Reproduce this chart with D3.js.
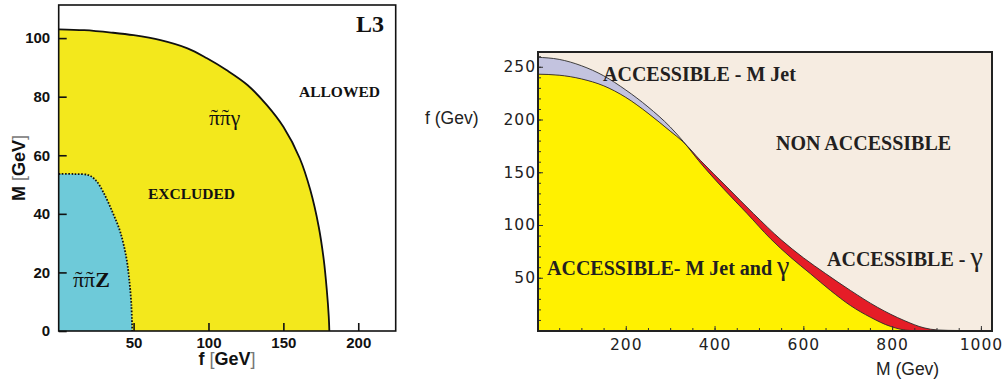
<!DOCTYPE html>
<html>
<head>
<meta charset="utf-8">
<script src="https://cdn.jsdelivr.net/npm/d3@7"></script>
<style>
  html, body { margin: 0; padding: 0; background: #ffffff; }
  svg { display: block; }
  .serif { font-family: "Liberation Serif", "DejaVu Serif", serif; }
  .sansb { font-family: "Liberation Sans", Arial, sans-serif; font-weight: bold; }
</style>
</head>
<body>
<svg id="chart" width="1002" height="385"></svg>
<script>
// ---------- Left panel: L3 exclusion regions (f [GeV] vs M [GeV]) ----------
const gammaBoundF = [0, 17, 35, 50, 68, 86, 99, 112, 126, 139, 150, 161, 168, 173.6, 177, 179, 180.3, 180.7];
const gammaBoundM = [103, 102.7, 101.9, 101, 99.3, 96.5, 93.1, 89.1, 84, 77.1, 69.7, 58.9, 48.1, 35.6, 24.2, 14, 5, 0];
const zBoundF = [0, 10, 20, 25, 30, 36, 41, 45, 47, 48.5, 49.1];
const zBoundM = [53.6, 53.6, 53.2, 51.3, 47.2, 40.5, 34, 25.5, 18, 9, 0];
const leftXTicks = [50, 100, 150, 200];
const leftYTicks = [0, 20, 40, 60, 80, 100];

// ---------- Right panel: accessible regions (M (Gev) vs f (Gev)) ----------
const jetM = [0, 50, 100, 150, 200, 250, 300, 330, 364, 420, 473, 526, 571, 616, 661, 706, 751, 797, 842, 900, 1025];
const jetF = [259, 257, 251, 241.5, 228, 212, 193, 179, 161, 134.4, 111, 87, 69.5, 53.8, 38, 23.7, 12.6, 3.8, 0, 0, 0];
const photonM = [0, 50, 100, 150, 200, 250, 300, 330, 368, 428, 488, 550, 600, 650, 706, 767, 827, 872, 902, 950, 1025];
const photonF = [243, 242, 238.5, 232, 221, 206, 189, 178.5, 161.3, 136, 110.7, 86, 69, 54, 38, 22, 9.5, 2.5, 0.5, 0, 0];
const rightXMajor = [200, 400, 600, 800, 1000];
const rightXMinor = d3.range(50, 1025, 50);
const rightYMajor = [50, 100, 150, 200, 250];
const rightYMinor = d3.range(10, 264, 10);

const svg = d3.select("#chart");

// Measures a string in the serif face at a given size.
function measure(str, size, bold) {
  const t = svg.append("text").attr("class", "serif").attr("font-size", size)
    .attr("font-weight", bold ? "bold" : "normal").text(str);
  const w = t.node().getComputedTextLength();
  t.remove();
  return w;
}

// One text element; a tilde accent is laid back over each marked glyph.
function accentLabel(parent, x, y, size, parts) {
  const text = parent.append("text").attr("class", "serif").attr("font-size", size)
    .attr("x", x).attr("y", y).attr("fill", "#111");
  const wt = measure("\u02DC", size);
  const lift = -1.5;
  let dx = 0, dy = 0;
  parts.forEach(p => {
    const wp = measure(p.t, size, p.bold);
    text.append("tspan").attr("font-weight", p.bold ? "bold" : "normal")
      .attr("dx", dx).attr("dy", dy).text(p.t);
    dx = 0; dy = 0;
    if (p.tilde) {
      text.append("tspan").attr("dx", -(wp + wt) / 2).attr("dy", lift).text("\u02DC");
      dx = (wp - wt) / 2; dy = -lift;
    }
  });
}

// ================= LEFT PANEL =================
const L = { x0: 58.7, x1: 395.7, y0: 5, y1: 331 };
const lx = d3.scaleLinear().domain([0, 225]).range([L.x0, L.x1]);
const ly = d3.scaleLinear().domain([0, 111.3]).range([L.y1, L.y0]);

const gammaPts = gammaBoundF.map((f, i) => [f, gammaBoundM[i]]);
const zPts = zBoundF.map((f, i) => [f, zBoundM[i]]);

const leftLine = d3.line().x(d => lx(d[0])).y(d => ly(d[1])).curve(d3.curveCatmullRom.alpha(0.5));

const left = svg.append("g");
// excluded region from the photon channel
left.append("path")
  .attr("d", leftLine(gammaPts) + `L${lx(0)},${ly(0)}Z`)
  .attr("fill", "#f3e81c");
left.append("path")
  .attr("d", leftLine(gammaPts))
  .attr("fill", "none").attr("stroke", "#111").attr("stroke-width", 1.8);
// excluded region from the Z channel
left.append("path")
  .attr("d", leftLine(zPts) + `L${lx(0)},${ly(0)}Z`)
  .attr("fill", "#6ecad9");
left.append("path")
  .attr("d", leftLine(zPts))
  .attr("fill", "none").attr("stroke", "#111").attr("stroke-width", 1.8)
  .attr("stroke-dasharray", "1.6,1.6");

// axes
const lAxisY = left.append("g").attr("transform", `translate(${L.x0},0)`)
  .call(d3.axisLeft(ly).tickValues(leftYTicks).tickSize(-8).tickPadding(8.5));
const lAxisX = left.append("g").attr("transform", `translate(0,${L.y1})`)
  .call(d3.axisBottom(lx).tickValues(leftXTicks).tickSize(-8).tickPadding(6));
[lAxisY, lAxisX].forEach(g => {
  g.select(".domain").remove();
  g.selectAll(".tick line").attr("stroke", "#111").attr("stroke-width", 1.6);
  g.selectAll("text").attr("class", "sansb").attr("font-size", 15).attr("fill", "#111");
});

left.append("rect")
  .attr("x", L.x0).attr("y", L.y0).attr("width", L.x1 - L.x0).attr("height", L.y1 - L.y0)
  .attr("fill", "none").attr("stroke", "#111").attr("stroke-width", 1.6);

// axis titles
const fTitle = left.append("text").attr("class", "sansb").attr("font-size", 18)
  .attr("x", 227).attr("y", 365).attr("text-anchor", "middle").attr("fill", "#111");
fTitle.append("tspan").text("f ");
fTitle.append("tspan").attr("font-weight", "normal").attr("fill", "#777").text("[");
fTitle.append("tspan").text("GeV");
fTitle.append("tspan").attr("font-weight", "normal").attr("fill", "#777").text("]");

const mTitle = left.append("text").attr("class", "sansb").attr("font-size", 18)
  .attr("transform", "translate(25,168) rotate(-90)").attr("text-anchor", "middle").attr("fill", "#111");
mTitle.append("tspan").text("M ");
mTitle.append("tspan").attr("font-weight", "normal").attr("fill", "#777").text("[");
mTitle.append("tspan").text("GeV");
mTitle.append("tspan").attr("font-weight", "normal").attr("fill", "#777").text("]");

// region labels
left.append("text").attr("class", "serif").attr("font-weight", "bold").attr("font-size", 24)
  .attr("x", 356).attr("y", 32).attr("fill", "#111").text("L3");
left.append("text").attr("class", "serif").attr("font-weight", "bold").attr("font-size", 15.5)
  .attr("x", 299).attr("y", 97).attr("fill", "#111").text("ALLOWED");
left.append("text").attr("class", "serif").attr("font-weight", "bold").attr("font-size", 15.5)
  .attr("x", 148).attr("y", 199).attr("fill", "#111").text("EXCLUDED");
accentLabel(left, 209, 125, 21.5, [{ t: "\u03C0", tilde: true }, { t: "\u03C0", tilde: true }, { t: "\u03B3" }]);
accentLabel(left, 73, 287, 22, [{ t: "\u03C0", tilde: true }, { t: "\u03C0", tilde: true }, { t: "Z", bold: true }]);

// ================= RIGHT PANEL =================
const R = { x0: 538, x1: 992, y0: 52, y1: 331 };
const rx = d3.scaleLinear().domain([0, 1025]).range([537, 992]);
const ry = d3.scaleLinear().domain([0, 264]).range([330.5, R.y0]);

const right = svg.append("g");
const defs = right.append("defs");
defs.append("clipPath").attr("id", "plotClip")
  .append("rect").attr("x", R.x0).attr("y", R.y0).attr("width", R.x1 - R.x0).attr("height", R.y1 - R.y0);

const jetPts = jetM.map((m, i) => [m, jetF[i]]);
const photonPts = photonM.map((m, i) => [m, photonF[i]]);
const rArea = d3.area().x(d => rx(d[0])).y0(ry(0)).y1(d => ry(d[1])).curve(d3.curveMonotoneX);
const rLine = d3.line().x(d => rx(d[0])).y(d => ry(d[1])).curve(d3.curveMonotoneX);

defs.append("clipPath").attr("id", "photonClip")
  .append("path").attr("d", rArea(photonPts));

const plot = right.append("g").attr("clip-path", "url(#plotClip)");
plot.append("rect").attr("x", R.x0).attr("y", R.y0).attr("width", R.x1 - R.x0).attr("height", R.y1 - R.y0)
  .attr("fill", "#f6ece1");
plot.append("path").attr("d", rArea(jetPts)).attr("fill", "#c3c3df");
plot.append("path").attr("d", rArea(photonPts)).attr("fill", "#e51d27");
// reachable by both: below the jet curve and below the photon curve
plot.append("g").attr("clip-path", "url(#photonClip)")
  .append("path").attr("d", rArea(jetPts)).attr("fill", "#fff100");
plot.append("path").attr("d", rLine(jetPts)).attr("fill", "none").attr("stroke", "#2a2a2a").attr("stroke-width", 0.9);
plot.append("path").attr("d", rLine(photonPts)).attr("fill", "none").attr("stroke", "#2a2a2a").attr("stroke-width", 0.9);

// ticks and labels
function styleAxis(g) {
  g.select(".domain").remove();
  g.selectAll(".tick line").attr("stroke", "#333").attr("stroke-width", 1);
  g.selectAll("text").attr("font-family", "'DejaVu Sans', sans-serif").attr("font-size", 15.5)
    .attr("letter-spacing", 1).attr("fill", "#222");
}
right.append("g").attr("transform", `translate(${R.x0},0)`)
  .call(d3.axisLeft(ry).tickValues(rightYMinor).tickSize(-3).tickFormat("")).call(styleAxis);
right.append("g").attr("transform", `translate(${R.x0},0)`)
  .call(d3.axisLeft(ry).tickValues(rightYMajor).tickSize(-5).tickPadding(2).tickFormat(d3.format("d"))).call(styleAxis);
right.append("g").attr("transform", `translate(0,${R.y1})`)
  .call(d3.axisBottom(rx).tickValues(rightXMinor).tickSize(-3).tickFormat("")).call(styleAxis);
right.append("g").attr("transform", `translate(0,${R.y1})`)
  .call(d3.axisBottom(rx).tickValues(rightXMajor).tickSize(-5).tickPadding(8).tickFormat(d3.format("d"))).call(styleAxis);

right.append("rect")
  .attr("x", R.x0).attr("y", R.y0).attr("width", R.x1 - R.x0).attr("height", R.y1 - R.y0)
  .attr("fill", "none").attr("stroke", "#222").attr("stroke-width", 2);

// axis titles
right.append("text").attr("font-family", "'Liberation Sans', Arial, sans-serif").attr("font-size", 17.5)
  .attr("x", 425).attr("y", 124).attr("fill", "#222").text("f (Gev)");
right.append("text").attr("font-family", "'Liberation Sans', Arial, sans-serif").attr("font-size", 17.5)
  .attr("x", 876).attr("y", 375).attr("fill", "#222").text("M (Gev)");

// region labels
const lab = (x, y, t) => right.append("text").attr("class", "serif").attr("font-weight", "bold")
  .attr("font-size", 20).attr("x", x).attr("y", y).attr("fill", "#231f20").text(t);
lab(603, 81, "ACCESSIBLE - M Jet");
lab(776, 150, "NON ACCESSIBLE");
const g1 = lab(827, 266, "ACCESSIBLE - ");
g1.append("tspan").attr("font-weight", "normal").attr("font-size", 28).text("\u03B3");
const g2 = lab(547, 275, "ACCESSIBLE- M Jet and ");
g2.append("tspan").attr("font-weight", "normal").attr("font-size", 28).text("\u03B3");
</script>
</body>
</html>
